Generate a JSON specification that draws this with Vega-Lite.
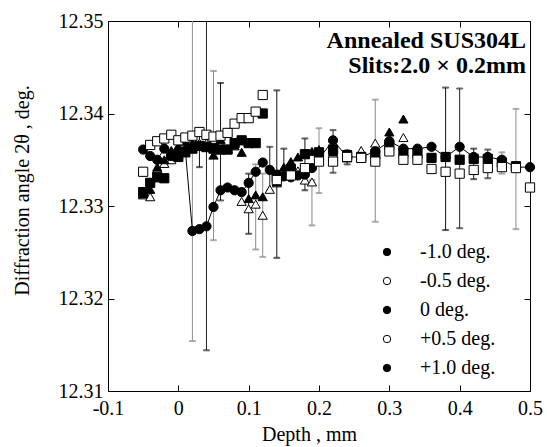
{
 "$schema": "https://vega.github.io/schema/vega-lite/v6.json",
 "width": 422, "height": 370,
 "autosize": {"type": "none"},
 "padding": {"left": 108, "top": 21, "right": 17, "bottom": 56},
 "background": "white",
 "config": {
   "font": "Liberation Serif",
   "view": {"stroke": "black", "strokeWidth": 1},
   "axis": {"grid": false, "domain": false, "tickColor": "black", "tickSize": -6, "labelFont": "Liberation Serif", "labelFontSize": 20, "labelColor": "black", "titleFont": "Liberation Serif", "titleFontSize": 20, "titleFontWeight": "normal", "titleColor": "black", "labelFlush": false, "labelOverlap": false},
   "legend": {"labelFont": "Liberation Serif", "labelFontSize": 20, "labelColor": "black", "symbolStrokeColor": "black", "symbolStrokeWidth": 1, "symbolSize": 55, "rowPadding": 9, "labelOffset": 23, "padding": 0}
 },
 "title": {"text": ["Annealed SUS304L", "Slits:2.0  ×  0.2mm"], "anchor": "end", "frame": "group", "orient": "top", "offset": -67, "dx": -4, "font": "Liberation Serif", "fontSize": 24, "fontWeight": "bold", "color": "black", "lineHeight": 25, "baseline": "top"},
 "datasets": {
  "pts": [
   {"s":"+0.5 deg.","d":-0.05,"v":12.3312},{"s":"+0.5 deg.","d":-0.04,"v":12.3310},{"s":"+0.5 deg.","d":-0.03,"v":12.3340},{"s":"+0.5 deg.","d":-0.02,"v":12.3346},{"s":"+0.5 deg.","d":-0.01,"v":12.3350},{"s":"+0.5 deg.","d":0.0,"v":12.3356},{"s":"+0.5 deg.","d":0.01,"v":12.3362},{"s":"+0.5 deg.","d":0.02,"v":12.3365},{"s":"+0.5 deg.","d":0.03,"v":12.3368},{"s":"+0.5 deg.","d":0.04,"v":12.3368},{"s":"+0.5 deg.","d":0.05,"v":12.3372},{"s":"+0.5 deg.","d":0.06,"v":12.3365},{"s":"+0.5 deg.","d":0.07,"v":12.3362},{"s":"+0.5 deg.","d":0.09,"v":12.3305},{"s":"+0.5 deg.","d":0.10,"v":12.3297},{"s":"+0.5 deg.","d":0.11,"v":12.3302},{"s":"+0.5 deg.","d":0.12,"v":12.3290},{"s":"+0.5 deg.","d":0.13,"v":12.3318},{"s":"+0.5 deg.","d":0.14,"v":12.3325},{"s":"+0.5 deg.","d":0.15,"v":12.3335},{"s":"+0.5 deg.","d":0.16,"v":12.3338},{"s":"+0.5 deg.","d":0.17,"v":12.3338},{"s":"+0.5 deg.","d":0.18,"v":12.3328},{"s":"+0.5 deg.","d":0.19,"v":12.3326},{"s":"+0.5 deg.","d":0.20,"v":12.3352},{"s":"+0.5 deg.","d":0.22,"v":12.3357},{"s":"+0.5 deg.","d":0.24,"v":12.3357},{"s":"+0.5 deg.","d":0.26,"v":12.3360},{"s":"+0.5 deg.","d":0.28,"v":12.3368},{"s":"+0.5 deg.","d":0.30,"v":12.3372},{"s":"+0.5 deg.","d":0.32,"v":12.3374},{"s":"+0.5 deg.","d":0.34,"v":12.3356},
   {"s":"+1.0 deg.","d":-0.05,"v":12.3313},{"s":"+1.0 deg.","d":-0.04,"v":12.3318},{"s":"+1.0 deg.","d":-0.03,"v":12.3342},{"s":"+1.0 deg.","d":-0.02,"v":12.3350},{"s":"+1.0 deg.","d":-0.01,"v":12.3360},{"s":"+1.0 deg.","d":0.0,"v":12.3365},{"s":"+1.0 deg.","d":0.01,"v":12.3370},{"s":"+1.0 deg.","d":0.02,"v":12.3368},{"s":"+1.0 deg.","d":0.03,"v":12.3365},{"s":"+1.0 deg.","d":0.04,"v":12.3363},{"s":"+1.0 deg.","d":0.05,"v":12.3355},{"s":"+1.0 deg.","d":0.06,"v":12.3372},{"s":"+1.0 deg.","d":0.07,"v":12.3380},{"s":"+1.0 deg.","d":0.08,"v":12.3365},{"s":"+1.0 deg.","d":0.09,"v":12.3358},{"s":"+1.0 deg.","d":0.10,"v":12.3308},{"s":"+1.0 deg.","d":0.11,"v":12.3312},{"s":"+1.0 deg.","d":0.12,"v":12.3310},{"s":"+1.0 deg.","d":0.14,"v":12.3326},{"s":"+1.0 deg.","d":0.15,"v":12.3342},{"s":"+1.0 deg.","d":0.16,"v":12.3348},{"s":"+1.0 deg.","d":0.17,"v":12.3353},{"s":"+1.0 deg.","d":0.18,"v":12.3357},{"s":"+1.0 deg.","d":0.19,"v":12.3359},{"s":"+1.0 deg.","d":0.20,"v":12.3361},{"s":"+1.0 deg.","d":0.22,"v":12.3359},{"s":"+1.0 deg.","d":0.24,"v":12.3352},{"s":"+1.0 deg.","d":0.26,"v":12.3353},{"s":"+1.0 deg.","d":0.28,"v":12.3356},{"s":"+1.0 deg.","d":0.30,"v":12.3380},{"s":"+1.0 deg.","d":0.32,"v":12.3394},
   {"s":"-1.0 deg.","d":-0.05,"v":12.3315},{"s":"-1.0 deg.","d":-0.04,"v":12.3325},{"s":"-1.0 deg.","d":-0.03,"v":12.3331},{"s":"-1.0 deg.","d":-0.02,"v":12.3330},{"s":"-1.0 deg.","d":-0.01,"v":12.3355},{"s":"-1.0 deg.","d":0.0,"v":12.3353},{"s":"-1.0 deg.","d":0.01,"v":12.3358},{"s":"-1.0 deg.","d":0.02,"v":12.3362},{"s":"-1.0 deg.","d":0.03,"v":12.3365},{"s":"-1.0 deg.","d":0.04,"v":12.3364},{"s":"-1.0 deg.","d":0.05,"v":12.3362},{"s":"-1.0 deg.","d":0.06,"v":12.3361},{"s":"-1.0 deg.","d":0.07,"v":12.3361},{"s":"-1.0 deg.","d":0.08,"v":12.3368},{"s":"-1.0 deg.","d":0.09,"v":12.3371},{"s":"-1.0 deg.","d":0.10,"v":12.3368},{"s":"-1.0 deg.","d":0.11,"v":12.3368},{"s":"-1.0 deg.","d":0.12,"v":12.3400},{"s":"-1.0 deg.","d":0.14,"v":12.3331},{"s":"-1.0 deg.","d":0.16,"v":12.3340},{"s":"-1.0 deg.","d":0.18,"v":12.3356},{"s":"-1.0 deg.","d":0.20,"v":12.3358},{"s":"-1.0 deg.","d":0.22,"v":12.3361},{"s":"-1.0 deg.","d":0.24,"v":12.3355},{"s":"-1.0 deg.","d":0.26,"v":12.3353},{"s":"-1.0 deg.","d":0.28,"v":12.3356},{"s":"-1.0 deg.","d":0.30,"v":12.3366},{"s":"-1.0 deg.","d":0.32,"v":12.3358},{"s":"-1.0 deg.","d":0.34,"v":12.3357},{"s":"-1.0 deg.","d":0.36,"v":12.3352},{"s":"-1.0 deg.","d":0.38,"v":12.3353},{"s":"-1.0 deg.","d":0.40,"v":12.3350},{"s":"-1.0 deg.","d":0.42,"v":12.3351},{"s":"-1.0 deg.","d":0.44,"v":12.3351},{"s":"-1.0 deg.","d":0.46,"v":12.3347},{"s":"-1.0 deg.","d":0.48,"v":12.3343},
   {"s":"0 deg.","d":-0.05,"v":12.3361},{"s":"0 deg.","d":-0.04,"v":12.3354},{"s":"0 deg.","d":-0.03,"v":12.3350},{"s":"0 deg.","d":-0.02,"v":12.3362},{"s":"0 deg.","d":-0.01,"v":12.3354},{"s":"0 deg.","d":0.0,"v":12.3357},{"s":"0 deg.","d":0.01,"v":12.3360},{"s":"0 deg.","d":0.02,"v":12.3273},{"s":"0 deg.","d":0.03,"v":12.3275},{"s":"0 deg.","d":0.04,"v":12.3278},{"s":"0 deg.","d":0.05,"v":12.3299},{"s":"0 deg.","d":0.06,"v":12.3317},{"s":"0 deg.","d":0.07,"v":12.3320},{"s":"0 deg.","d":0.08,"v":12.3317},{"s":"0 deg.","d":0.09,"v":12.3315},{"s":"0 deg.","d":0.10,"v":12.3325},{"s":"0 deg.","d":0.11,"v":12.3337},{"s":"0 deg.","d":0.12,"v":12.3347},{"s":"0 deg.","d":0.13,"v":12.3339},{"s":"0 deg.","d":0.14,"v":12.3334},{"s":"0 deg.","d":0.15,"v":12.3332},{"s":"0 deg.","d":0.16,"v":12.3331},{"s":"0 deg.","d":0.17,"v":12.3333},{"s":"0 deg.","d":0.18,"v":12.3334},{"s":"0 deg.","d":0.19,"v":12.3341},{"s":"0 deg.","d":0.22,"v":12.3371},{"s":"0 deg.","d":0.24,"v":12.3353},{"s":"0 deg.","d":0.26,"v":12.3353},{"s":"0 deg.","d":0.28,"v":12.3359},{"s":"0 deg.","d":0.30,"v":12.3370},{"s":"0 deg.","d":0.32,"v":12.3362},{"s":"0 deg.","d":0.34,"v":12.3362},{"s":"0 deg.","d":0.36,"v":12.3364},{"s":"0 deg.","d":0.38,"v":12.3353},{"s":"0 deg.","d":0.40,"v":12.3364},{"s":"0 deg.","d":0.42,"v":12.3353},{"s":"0 deg.","d":0.44,"v":12.3353},{"s":"0 deg.","d":0.46,"v":12.3350},{"s":"0 deg.","d":0.48,"v":12.3342},{"s":"0 deg.","d":0.50,"v":12.3342},
   {"s":"-0.5 deg.","d":-0.05,"v":12.3337},{"s":"-0.5 deg.","d":-0.04,"v":12.3366},{"s":"-0.5 deg.","d":-0.03,"v":12.3370},{"s":"-0.5 deg.","d":-0.02,"v":12.3373},{"s":"-0.5 deg.","d":-0.01,"v":12.3377},{"s":"-0.5 deg.","d":0.0,"v":12.3371},{"s":"-0.5 deg.","d":0.01,"v":12.3374},{"s":"-0.5 deg.","d":0.02,"v":12.3376},{"s":"-0.5 deg.","d":0.03,"v":12.3380},{"s":"-0.5 deg.","d":0.04,"v":12.3377},{"s":"-0.5 deg.","d":0.05,"v":12.3375},{"s":"-0.5 deg.","d":0.06,"v":12.3376},{"s":"-0.5 deg.","d":0.07,"v":12.3379},{"s":"-0.5 deg.","d":0.08,"v":12.3389},{"s":"-0.5 deg.","d":0.09,"v":12.3395},{"s":"-0.5 deg.","d":0.10,"v":12.3395},{"s":"-0.5 deg.","d":0.11,"v":12.3402},{"s":"-0.5 deg.","d":0.12,"v":12.3420},{"s":"-0.5 deg.","d":0.14,"v":12.3328},{"s":"-0.5 deg.","d":0.16,"v":12.3333},{"s":"-0.5 deg.","d":0.18,"v":12.3341},{"s":"-0.5 deg.","d":0.20,"v":12.3348},{"s":"-0.5 deg.","d":0.22,"v":12.3348},{"s":"-0.5 deg.","d":0.24,"v":12.3353},{"s":"-0.5 deg.","d":0.26,"v":12.3352},{"s":"-0.5 deg.","d":0.28,"v":12.3348},{"s":"-0.5 deg.","d":0.30,"v":12.3359},{"s":"-0.5 deg.","d":0.32,"v":12.3350},{"s":"-0.5 deg.","d":0.34,"v":12.3350},{"s":"-0.5 deg.","d":0.36,"v":12.3340},{"s":"-0.5 deg.","d":0.38,"v":12.3337},{"s":"-0.5 deg.","d":0.40,"v":12.3335},{"s":"-0.5 deg.","d":0.42,"v":12.3339},{"s":"-0.5 deg.","d":0.44,"v":12.3341},{"s":"-0.5 deg.","d":0.46,"v":12.3342},{"s":"-0.5 deg.","d":0.48,"v":12.3341},{"s":"-0.5 deg.","d":0.50,"v":12.3320}
  ],
  "err": [
   {"es":"-0.5 deg.","d":0.02,"lo":12.3154,"hi":12.36},
   {"es":"0 deg.","d":0.04,"lo":12.3144,"hi":12.36},
   {"es":"+0.5 deg.","d":0.05,"lo":12.3263,"hi":12.3446},
   {"es":"-1.0 deg.","d":0.06,"lo":12.3306,"hi":12.3433},
   {"es":"+1.0 deg.","d":0.03,"lo":12.3342,"hi":12.3384},
   {"es":"+1.0 deg.","d":0.10,"lo":12.3270,"hi":12.3335},
   {"es":"+0.5 deg.","d":0.11,"lo":12.3253,"hi":12.3345},
   {"es":"+0.5 deg.","d":0.12,"lo":12.3245,"hi":12.3335},
   {"es":"0 deg.","d":0.13,"lo":12.3317,"hi":12.3364},
   {"es":"-1.0 deg.","d":0.14,"lo":12.3244,"hi":12.3425},
   {"es":"+1.0 deg.","d":0.15,"lo":12.3330,"hi":12.3362},
   {"es":"-1.0 deg.","d":0.18,"lo":12.3317,"hi":12.3373},
   {"es":"+0.5 deg.","d":0.19,"lo":12.3279,"hi":12.3328},
   {"es":"-0.5 deg.","d":0.20,"lo":12.3314,"hi":12.3384},
   {"es":"0 deg.","d":0.22,"lo":12.3336,"hi":12.3382},
   {"es":"-1.0 deg.","d":0.24,"lo":12.3345,"hi":12.3360},
   {"es":"-0.5 deg.","d":0.28,"lo":12.3283,"hi":12.3415},
   {"es":"-1.0 deg.","d":0.38,"lo":12.3274,"hi":12.3428},
   {"es":"0 deg.","d":0.40,"lo":12.3276,"hi":12.3427},
   {"es":"-1.0 deg.","d":0.42,"lo":12.3329,"hi":12.3362},
   {"es":"0 deg.","d":0.44,"lo":12.3330,"hi":12.3361},
   {"es":"-0.5 deg.","d":0.46,"lo":12.3335,"hi":12.3358},
   {"es":"-0.5 deg.","d":0.48,"lo":12.3275,"hi":12.3405}
  ]
 },
 "layer": [
  {
   "data": {"name": "err"},
   "mark": {"type": "rule", "strokeWidth": 1, "clip": true},
   "encoding": {
    "x": {"field": "d", "type": "quantitative", "scale": {"domain": [-0.1, 0.5], "nice": false, "zero": false}, "axis": null},
    "y": {"field": "lo", "type": "quantitative", "scale": {"domain": [12.31, 12.35], "nice": false, "zero": false}, "axis": null},
    "y2": {"field": "hi"},
    "stroke": {"field": "es", "type": "nominal", "scale": {"domain": ["-0.5 deg.", "+0.5 deg.", "-1.0 deg.", "0 deg.", "+1.0 deg."], "range": ["#8c8c8c", "#8c8c8c", "#111111", "#222222", "#111111"]}, "legend": null}
   }
  },
  {
   "data": {"name": "err"},
   "mark": {"type": "tick", "orient": "horizontal", "size": 6, "thickness": 1, "clip": true},
   "encoding": {
    "x": {"field": "d", "type": "quantitative", "scale": {"domain": [-0.1, 0.5], "nice": false, "zero": false}, "axis": null},
    "y": {"field": "lo", "type": "quantitative", "scale": {"domain": [12.31, 12.35], "nice": false, "zero": false}, "axis": null},
    "stroke": {"field": "es", "type": "nominal", "legend": null}
   }
  },
  {
   "data": {"name": "err"},
   "mark": {"type": "tick", "orient": "horizontal", "size": 6, "thickness": 1, "clip": true},
   "encoding": {
    "x": {"field": "d", "type": "quantitative", "scale": {"domain": [-0.1, 0.5], "nice": false, "zero": false}, "axis": null},
    "y": {"field": "hi", "type": "quantitative", "scale": {"domain": [12.31, 12.35], "nice": false, "zero": false}, "axis": null},
    "stroke": {"field": "es", "type": "nominal", "legend": null}
   }
  },
  {
   "data": {"name": "pts"},
   "transform": [{"filter": "datum.s === '0 deg.'"}],
   "mark": {"type": "line", "color": "black", "strokeWidth": 1},
   "encoding": {
    "x": {"field": "d", "type": "quantitative", "scale": {"domain": [-0.1, 0.5], "nice": false, "zero": false}, "axis": {"orient": "top", "labels": false, "title": null, "values": [-0.1, 0, 0.1, 0.2, 0.3, 0.4, 0.5]}},
    "y": {"field": "v", "type": "quantitative", "scale": {"domain": [12.31, 12.35], "nice": false, "zero": false}, "axis": {"orient": "right", "labels": false, "title": null, "values": [12.31, 12.32, 12.33, 12.34, 12.35]}}
   }
  },
  {
   "data": {"name": "pts"},
   "mark": {"type": "point", "size": 85, "strokeWidth": 1, "opacity": 1, "color": "black"},
   "encoding": {
    "x": {"field": "d", "type": "quantitative", "scale": {"domain": [-0.1, 0.5], "nice": false, "zero": false}, "axis": {"orient": "bottom", "title": "Depth , mm", "values": [-0.1, 0, 0.1, 0.2, 0.3, 0.4, 0.5], "labelPadding": 13, "titlePadding": 6, "titleX": 201, "labelExpr": "datum.value < -0.0001 ? '-' + format(-datum.value, '.1~f') : format(datum.value, '.1~f')"}},
    "y": {"field": "v", "type": "quantitative", "scale": {"domain": [12.31, 12.35], "nice": false, "zero": false}, "axis": {"orient": "left", "title": "Diffraction angle 2θ , deg.", "values": [12.31, 12.32, 12.33, 12.34, 12.35], "format": ".2f", "labelPadding": 11, "titlePadding": 26, "titleY": 169}},
    "shape": {"field": "s", "type": "nominal", "scale": {"domain": ["0 deg.", "-1.0 deg.", "-0.5 deg.", "+0.5 deg.", "+1.0 deg."], "range": ["circle", "square", "square", "triangle-up", "triangle-up"]}, "legend": null},
    "fill": {"field": "s", "type": "nominal", "scale": {"domain": ["-1.0 deg.", "-0.5 deg.", "0 deg.", "+0.5 deg.", "+1.0 deg."], "range": ["black", "white", "black", "white", "black"]},
     "legend": {"orient": "none", "legendX": 269, "legendY": 221, "title": null, "symbolStrokeColor": "black",
      "encode": {"symbols": {
        "shape": {"condition": [
          {"test": "datum.value === '0 deg.'", "value": "M-6.2,0H-1.2M1.2,0H6.2M-1.2,0A1.2,1.2,0,1,1,1.2,0A1.2,1.2,0,1,1,-1.2,0Z"},
          {"test": "datum.value === '+0.5 deg.' || datum.value === '+1.0 deg.'", "value": "triangle-up"}
        ], "value": "square"},
        "stroke": {"value": "black"}, "strokeWidth": {"value": 1}, "opacity": {"value": 1}}}}}
   }
  }
 ],
 "resolve": {"axis": {"x": "independent", "y": "independent"}}
}
